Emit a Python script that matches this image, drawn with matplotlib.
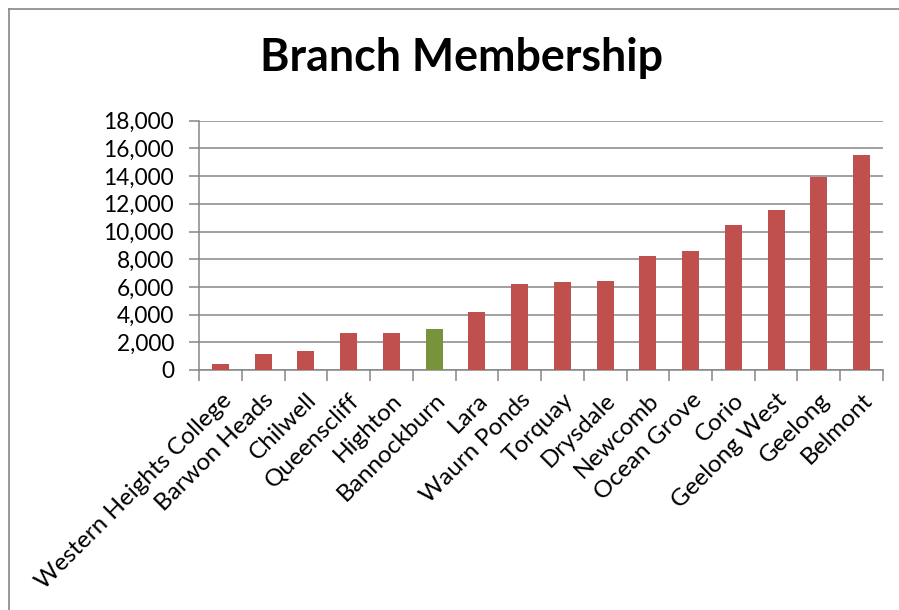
import matplotlib.pyplot as plt
import matplotlib.ticker as ticker
import numpy as np

branches = ['Western Heights College', 'Barwon Heads', 'Chilwell', 'Queenscliff',
            'Highton', 'Bannockburn', 'Lara', 'Waurn Ponds', 'Torquay', 'Drysdale',
            'Newcomb', 'Ocean Grove', 'Corio', 'Geelong West', 'Geelong', 'Belmont']
members = [410, 1150, 1370, 2640, 2660, 2950, 4200, 6210,
           6340, 6460, 8260, 8620, 10440, 11570, 13920, 15550]
highlight = 'Bannockburn'

red = '#C0504D'
green = '#77933C'
grey = '#868686'

plt.rcParams['font.family'] = ['Lato', 'DejaVu Sans']

fig = plt.figure(figsize=(8.99, 6.10), dpi=100)
ax = fig.add_axes([199 / 899, 1 - 370 / 610, (883 - 199) / 899, (370 - 120.7) / 610])

x = np.arange(len(branches))
colors = [green if b == highlight else red for b in branches]
ax.bar(x, members, width=0.4, color=colors, zorder=3)

ax.set_xlim(-0.5, len(branches) - 0.5)
ax.set_ylim(0, 18000)
ax.yaxis.set_major_locator(ticker.MultipleLocator(2000))
ax.yaxis.set_major_formatter(ticker.FuncFormatter(lambda v, p: f'{int(v):,}'))
ax.grid(axis='y', color=grey, lw=1.1, zorder=1)

ax.set_xticks(x)
ax.set_xticklabels(branches, rotation=45, ha='right', va='top', rotation_mode='anchor')
ax.set_xticks(np.arange(len(branches) + 1) - 0.5, minor=True)
ax.tick_params(axis='x', which='major', length=0, pad=14, labelsize=17.5)
ax.tick_params(axis='x', which='minor', length=8, width=1.1, color=grey, direction='out')
ax.tick_params(axis='y', length=7, width=1.1, color=grey, pad=11, labelsize=16.3)

for side in ['top', 'right']:
    ax.spines[side].set_visible(False)
for side in ['left', 'bottom']:
    ax.spines[side].set_color(grey)
    ax.spines[side].set_linewidth(1.1)

fig.text(462 / 899, 1 - 58 / 610, 'Branch Membership', ha='center', va='center',
         fontsize=32.2, fontweight='bold')

# chart area border
fig.add_artist(plt.Line2D([9 / 899, 9 / 899], [0, 1 - 9 / 610], transform=fig.transFigure,
                          color=grey, lw=1.2))
fig.add_artist(plt.Line2D([9 / 899, 1], [1 - 9 / 610, 1 - 9 / 610], transform=fig.transFigure,
                          color=grey, lw=1.2))

fig.savefig('out.png', dpi=100)
